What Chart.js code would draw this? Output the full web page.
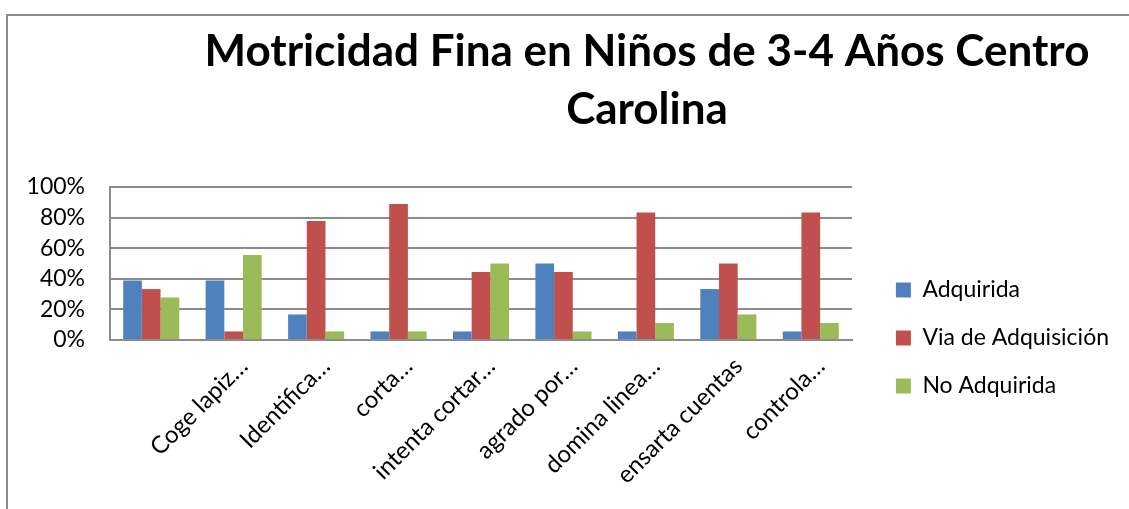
<!DOCTYPE html>
<html>
<head>
<meta charset="utf-8">
<script src="https://cdn.jsdelivr.net/npm/chart.js@4"></script>
<style>
    html, body { margin: 0; padding: 0; background: #fff; overflow: hidden; }
    .marco {
        position: absolute; left: 6px; top: 14px; width: 1200px; height: 600px;
        border-top: 2px solid #8c8c8c; border-left: 2px solid #8c8c8c;
    }
    .caja { position: absolute; left: 0; top: 0; width: 1129px; height: 509px; }
</style>
</head>
<body>
<div class="marco"></div>
<div class="caja"><canvas id="grafico" width="1129" height="509"></canvas></div>
<script>
// datos (porcentaje de 18 niños)
const categorias = ['', 'Coge lapiz…', 'Identifica…', 'corta…', 'intenta cortar…',
                    'agrado por…', 'domina linea…', 'ensarta cuentas', 'controla…'];
const adquirida = [38.9, 38.9, 16.7, 5.6, 5.6, 50.0, 5.6, 33.3, 5.6];
const viaAdquisicion = [33.3, 5.6, 77.8, 88.9, 44.4, 44.4, 83.3, 50.0, 83.3];
const noAdquirida = [27.8, 55.6, 5.6, 5.6, 50.0, 5.6, 11.1, 16.7, 11.1];
const ticksY = [0, 20, 40, 60, 80, 100];
const titulo = ['Motricidad Fina en Niños de 3-4 Años Centro', 'Carolina'];

document.addEventListener('DOMContentLoaded', () => {
    const fuente = 'Lato, "Open Sans", sans-serif';
    const margenDerecho = 10;

    // titulo centrado como en el original (no centrado sobre el lienzo)
    const tituloPlugin = {
        id: 'tituloPlugin',
        afterDraw(chart) {
            const c = chart.ctx;
            c.save();
            c.fillStyle = '#000';
            c.font = 'bold 44px ' + fuente;
            c.textAlign = 'center';
            c.textBaseline = 'alphabetic';
            c.fillText(titulo[0], 647, 66);
            c.fillText(titulo[1], 647, 124);
            c.restore();
        }
    };

    const ctx = document.getElementById('grafico').getContext('2d');
    new Chart(ctx, {
        type: 'bar',
        data: {
            labels: categorias,
            datasets: [
                { label: 'Adquirida', data: adquirida, backgroundColor: '#4F81BD' },
                { label: 'Via de Adquisición', data: viaAdquisicion, backgroundColor: '#C0504D' },
                { label: 'No Adquirida', data: noAdquirida, backgroundColor: '#9BBB59' }
            ]
        },
        options: {
            responsive: false,
            animation: false,
            datasets: {
                bar: { categoryPercentage: 0.68, barPercentage: 1.0 }
            },
            layout: { padding: { top: 187, bottom: 20, left: 0, right: margenDerecho } },
            scales: {
                x: {
                    grid: { display: false, drawTicks: false },
                    border: { color: '#8c8c8c', width: 2 },
                    ticks: {
                        color: '#000',
                        font: { family: fuente, size: 24 },
                        minRotation: 45,
                        maxRotation: 45,
                        autoSkip: false,
                        padding: 12,
                        labelOffset: 10
                    },
                    afterFit: (scale) => { scale.height = 149; }
                },
                y: {
                    min: 0,
                    max: 100,
                    afterBuildTicks: (scale) => { scale.ticks = ticksY.map(v => ({ value: v })); },
                    grid: { color: '#8c8c8c', lineWidth: 2, drawTicks: false },
                    border: { color: '#8c8c8c', width: 2 },
                    ticks: {
                        color: '#000',
                        font: { family: fuente, size: 23 },
                        padding: 25,
                        callback: (value) => value + '%'
                    },
                    afterFit: (scale) => { scale.width = 110; }
                },
                // hueco entre el area del grafico y la leyenda
                relleno: {
                    position: 'right',
                    display: true,
                    grid: { display: false, drawTicks: false },
                    border: { display: false },
                    ticks: { display: false },
                    afterFit: (scale) => {
                        const leyenda = scale.chart.legend;
                        scale.width = Math.max(0, scale.chart.width - margenDerecho - leyenda.width - 852);
                    }
                }
            },
            plugins: {
                legend: {
                    position: 'right',
                    maxWidth: 320,
                    labels: {
                        color: '#000',
                        font: { family: fuente, size: 23 },
                        boxWidth: 15,
                        boxHeight: 15,
                        padding: 25
                    }
                },
                title: { display: false },
                tooltip: { enabled: false }
            }
        },
        plugins: [tituloPlugin]
    });
});
</script>
</body>
</html>
